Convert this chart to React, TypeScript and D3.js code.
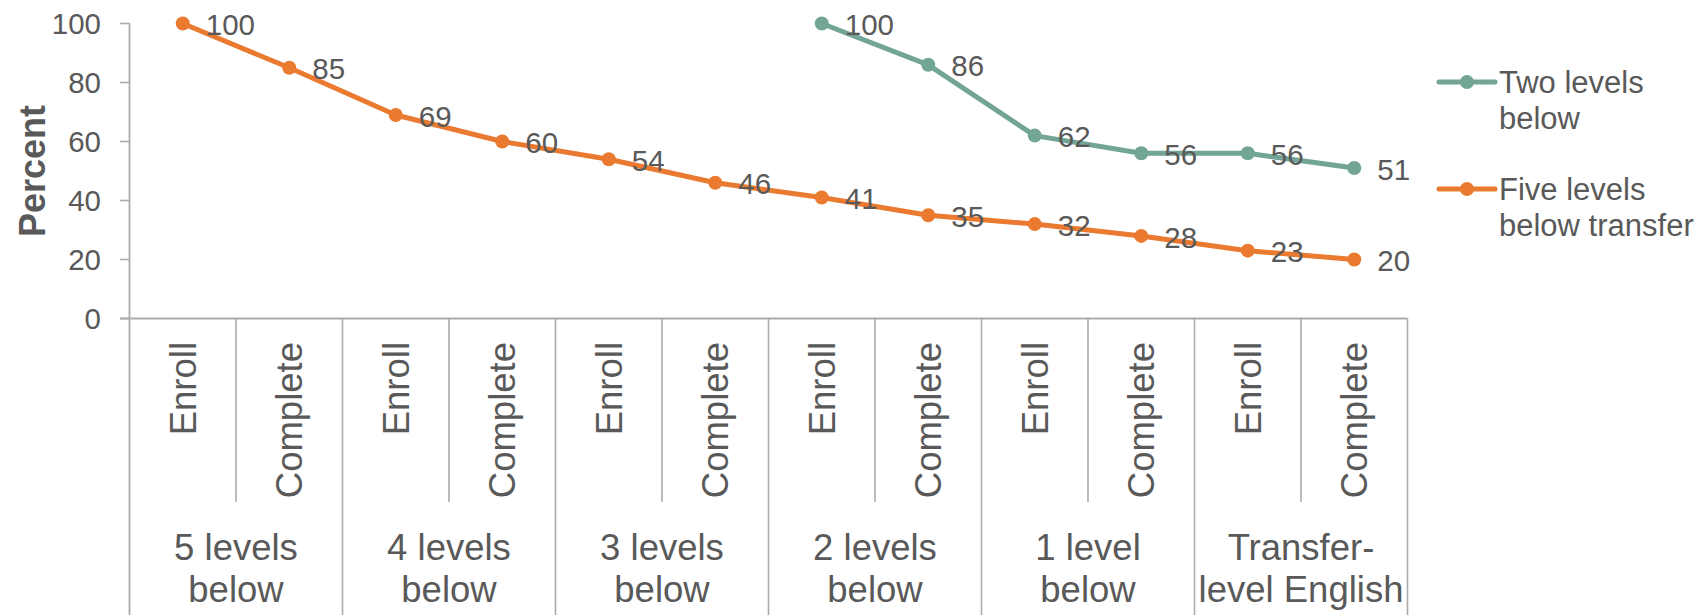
import React from "react";
import * as d3 from "d3";

// Stages along the x axis (two per course level)
const stages = [
  "Enroll", "Complete", "Enroll", "Complete", "Enroll", "Complete",
  "Enroll", "Complete", "Enroll", "Complete", "Enroll", "Complete",
];

// Course levels, each spanning two stages (wrapped onto two lines)
const levels = [
  ["5 levels", "below"],
  ["4 levels", "below"],
  ["3 levels", "below"],
  ["2 levels", "below"],
  ["1 level", "below"],
  ["Transfer-", "level English"],
];

const yTicks = [0, 20, 40, 60, 80, 100];

// Percent of starting cohort at each stage
const fiveLevelsBelow: (number | null)[] = [100, 85, 69, 60, 54, 46, 41, 35, 32, 28, 23, 20];
const twoLevelsBelow: (number | null)[] = [null, null, null, null, null, null, 100, 86, 62, 56, 56, 51];

const series = [
  { name: ["Two levels", "below"], color: "#72A596", values: twoLevelsBelow },
  { name: ["Five levels", "below transfer"], color: "#E97A30", values: fiveLevelsBelow },
];

const W = 1702;
const H = 615;
const left = 129.5;
const right = 1407.5;
const top = 23.5;
const bottom = 318.5;
const textColor = "#595959";
const axisColor = "#ABABAB";
const font = "'Liberation Sans', Arial, sans-serif";

export default function App() {
  const x = d3
    .scaleBand<number>()
    .domain(d3.range(stages.length))
    .range([left, right])
    .paddingInner(0)
    .paddingOuter(0);
  const bw = x.bandwidth();
  const cx = (i: number) => (x(i) as number) + bw / 2;
  const y = d3.scaleLinear().domain([0, 100]).range([bottom, top]);

  const line = d3
    .line<number | null>()
    .defined((d) => d != null)
    .x((_, i) => cx(i))
    .y((d) => y(d as number));

  // Boundaries between stages; every second one separates two levels
  const boundaries = d3.range(stages.length + 1);

  return (
    <div style={{ position: "absolute", left: 0, top: 0 }}>
      <svg width={W} height={H} style={{ display: "block", background: "#fff" }} fontFamily={font}>
        {/* y axis title */}
        <text
          transform={`translate(45,${(top + bottom) / 2}) rotate(-90)`}
          textAnchor="middle"
          fontSize={36}
          fontWeight="bold"
          fill={textColor}
        >
          Percent
        </text>

        {/* y ticks and labels */}
        {yTicks.map((t) => (
          <g key={t}>
            <line x1={120} x2={left} y1={y(t)} y2={y(t)} stroke={axisColor} strokeWidth={1.6} />
            <text
              x={101}
              y={y(t)}
              dy="0.36em"
              textAnchor="end"
              fontSize={29.5}
              fill={textColor}
            >
              {t}
            </text>
          </g>
        ))}

        {/* y axis line, continuing down through the category area */}
        <line x1={left} x2={left} y1={top} y2={H} stroke={axisColor} strokeWidth={1.8} />
        {/* x axis line */}
        <line x1={120} x2={right} y1={bottom} y2={bottom} stroke={axisColor} strokeWidth={1.8} />

        {/* stage/level separators */}
        {boundaries.slice(1).map((b) => {
          const xx = b === stages.length ? right : (x(b) as number);
          const isLevel = b % 2 === 0;
          return (
            <line
              key={b}
              x1={xx}
              x2={xx}
              y1={bottom}
              y2={isLevel ? H : 502}
              stroke={axisColor}
              strokeWidth={1.6}
            />
          );
        })}

        {/* stage labels */}
        {stages.map((s, i) => (
          <text
            key={i}
            transform={`translate(${cx(i) + 13},342) rotate(-90)`}
            textAnchor="end"
            fontSize={36.5}
            fill={textColor}
          >
            {s}
          </text>
        ))}

        {/* level labels */}
        {levels.map((lines, g) => {
          const gx = (x(g * 2) as number) + bw;
          return (
            <text key={g} textAnchor="middle" fontSize={36.5} fill={textColor}>
              {lines.map((l, k) => (
                <tspan key={k} x={gx} y={560 + k * 41.7}>
                  {l}
                </tspan>
              ))}
            </text>
          );
        })}

        {/* series lines, markers and value labels */}
        {series.map((s) => (
          <g key={s.name.join(" ")}>
            <path d={line(s.values) || ""} fill="none" stroke={s.color} strokeWidth={5} strokeLinejoin="round" />
            {s.values.map((v, i) =>
              v == null ? null : (
                <g key={i}>
                  <circle cx={cx(i)} cy={y(v)} r={7} fill={s.color} />
                  <text
                    x={cx(i) + 23}
                    y={y(v) + 1}
                    dy="0.36em"
                    fontSize={29.5}
                    fill={textColor}
                  >
                    {d3.format("d")(v)}
                  </text>
                </g>
              )
            )}
          </g>
        ))}

        {/* legend */}
        {series.map((s, k) => {
          const ly = k === 0 ? 82 : 189;
          return (
            <g key={k}>
              <line x1={1439} x2={1495} y1={ly} y2={ly} stroke={s.color} strokeWidth={5} strokeLinecap="round" />
              <circle cx={1467} cy={ly} r={7} fill={s.color} />
              <text fontSize={31} fill={textColor}>
                {s.name.map((n, j) => (
                  <tspan key={j} x={1499} y={ly + 11 + j * 35.5}>
                    {n}
                  </tspan>
                ))}
              </text>
            </g>
          );
        })}
      </svg>
    </div>
  );
}
